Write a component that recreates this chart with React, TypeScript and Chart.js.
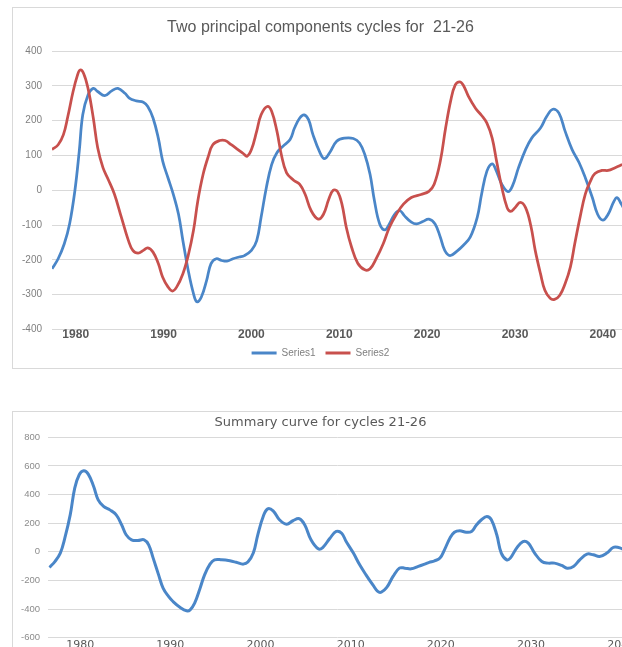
import React, { useEffect, useRef } from "react";
import { Chart, registerables } from "chart.js";

Chart.register(...registerables);

// ---------- Data ----------
const xTickYears = [1980, 1990, 2000, 2010, 2020, 2030, 2040];

const topTitle = "Two principal components cycles for  21-26";
const bottomTitle = "Summary curve for cycles 21-26";
const series1Label = "Series1";
const series2Label = "Series2";

const s1Years = [
  1977.3, 1978.0, 1978.7, 1979.3, 1979.9, 1980.4, 1980.8, 1981.4, 1982.0, 1982.5,
  1983.3, 1984.1, 1984.8, 1985.6, 1986.1, 1986.9, 1987.7, 1988.2, 1988.8, 1989.4,
  1989.9, 1990.5, 1991.1, 1991.7, 1992.2, 1992.8, 1993.4, 1993.8, 1994.3, 1994.9,
  1995.4, 1996.0, 1996.6, 1997.2, 1997.9, 1998.6, 1999.2, 2000.0, 2000.6, 2001.1,
  2001.7, 2002.3, 2002.9, 2003.6, 2004.4, 2004.9, 2005.5, 2006.0, 2006.5, 2007.0,
  2007.8, 2008.3, 2008.9, 2009.7, 2010.6, 2011.6, 2012.3, 2012.9, 2013.5, 2014.0,
  2014.6, 2015.2, 2015.7, 2016.3, 2016.9, 2017.4, 2018.2, 2018.8, 2019.5, 2020.2,
  2020.9, 2021.5, 2022.0, 2022.6, 2023.4, 2024.1, 2024.9, 2025.7, 2026.2, 2026.8,
  2027.4, 2027.8, 2028.5, 2029.2, 2029.7, 2030.4, 2031.2, 2031.9, 2032.9, 2033.6,
  2034.3, 2035.0, 2035.7, 2036.5, 2037.3, 2038.0, 2038.8, 2039.4, 2040.0, 2040.6,
  2041.2, 2041.6, 2042.1, 2042.4,
];
const s1Values = [
  -226, -197, -154, -97, -2, 112, 217, 274, 293, 284,
  272, 286, 293, 279, 265, 257, 253, 241, 208, 150,
  84, 36, -11, -69, -145, -230, -297, -321, -307, -259,
  -211, -197, -202, -204, -197, -192, -188, -173, -145, -78,
  8, 74, 108, 127, 146, 179, 208, 217, 203, 160,
  108, 91, 108, 141, 150, 149, 136, 103, 46, -30,
  -97, -114, -97, -69, -59, -73, -92, -97, -90, -83,
  -97, -135, -173, -188, -175, -159, -135, -78, -11, 55,
  76, 60, 17, -4, 12, 65, 117, 150, 179, 212,
  233, 222, 170, 117, 79, 36, -21, -69, -86, -69,
  -35, -21, -40, -54,
];

const s2Years = [
  1977.3, 1978.0, 1978.6, 1979.1, 1979.7, 1980.2, 1980.5, 1980.9, 1981.4, 1982.0,
  1982.5, 1983.1, 1983.7, 1984.4, 1985.2, 1986.0, 1986.5, 1987.1, 1987.7, 1988.2,
  1988.8, 1989.4, 1989.9, 1990.5, 1991.0, 1991.5, 1992.2, 1992.8, 1993.4, 1993.9,
  1994.5, 1995.1, 1995.6, 1996.4, 1997.0, 1997.7, 1998.3, 1999.1, 1999.5, 2000.0,
  2000.6, 2001.1, 2001.8, 2002.3, 2002.9, 2003.4, 2004.0, 2004.8, 2005.5, 2006.1,
  2006.8, 2007.6, 2008.2, 2008.8, 2009.3, 2009.8, 2010.3, 2010.8, 2011.4, 2012.1,
  2012.9, 2013.5, 2014.2, 2015.0, 2015.7, 2016.5, 2017.3, 2018.2, 2019.3, 2020.2,
  2020.8, 2021.5, 2022.1, 2022.7, 2023.2, 2023.7, 2024.1, 2024.7, 2025.5, 2026.2,
  2026.8, 2027.4, 2027.9, 2028.5, 2029.1, 2029.5, 2030.0, 2030.6, 2031.2, 2031.8,
  2032.3, 2032.9, 2033.4, 2034.0, 2034.5, 2035.1, 2035.7, 2036.3, 2036.8, 2037.4,
  2038.0, 2038.6, 2039.1, 2039.9, 2040.6, 2041.4, 2042.2,
];
const s2Values = [
  117, 131, 160, 212, 284, 331, 346, 336, 293, 208,
  122, 65, 31, -11, -78, -145, -173, -181, -173, -166,
  -178, -211, -250, -278, -290, -278, -240, -188, -116, -30,
  46, 98, 131, 143, 143, 131, 120, 105, 98, 117,
  170, 217, 241, 227, 170, 103, 50, 29, 17, -11,
  -59, -83, -69, -26, 0, -4, -40, -107, -164, -210,
  -229, -226, -197, -154, -107, -69, -40, -21, -12, -3,
  17, 84, 179, 260, 303, 312, 303, 270, 236, 215,
  193, 150, 84, 8, -50, -61, -50, -35, -50, -102,
  -173, -240, -288, -311, -314, -302, -269, -221, -154, -78,
  -11, 27, 48, 57, 57, 65, 74,
];

const sumYears = [
  1976.6, 1977.2, 1977.8, 1978.3, 1978.9, 1979.4, 1979.9, 1980.4, 1980.9, 1981.5,
  1982.0, 1982.6, 1983.3, 1984.0, 1984.6, 1985.1, 1985.7, 1986.4, 1987.1, 1987.6,
  1988.1, 1988.7, 1989.2, 1989.8, 1990.3, 1991.1, 1991.8, 1992.2, 1992.7, 1993.3,
  1993.8, 1994.4, 1994.9, 1995.7, 1996.6, 1997.3, 1998.1, 1998.6, 1999.2, 1999.7,
  2000.3, 2000.8, 2001.4, 2002.1, 2002.9, 2003.6, 2004.3, 2004.9, 2005.6, 2006.4,
  2006.9, 2007.7, 2008.4, 2009.0, 2009.5, 2010.3, 2011.0, 2011.7, 2012.5, 2013.0,
  2013.4, 2014.0, 2014.7, 2015.4, 2016.0, 2016.7, 2017.5, 2018.2, 2018.7, 2019.3,
  2019.9, 2020.4, 2021.0, 2021.5, 2022.1, 2022.8, 2023.4, 2023.9, 2024.5, 2025.1,
  2025.6, 2026.2, 2026.7, 2027.3, 2027.7, 2028.4, 2029.1, 2029.7, 2030.4, 2031.2,
  2031.9, 2032.6, 2033.4, 2034.0, 2034.7, 2035.4, 2036.2, 2036.9, 2037.6, 2038.4,
  2039.1, 2039.7, 2040.2,
];
const sumValues = [
  -109, -68, -9, 95, 258, 445, 538, 566, 543, 456,
  363, 317, 293, 258, 189, 119, 84, 79, 84, 49,
  -44, -161, -254, -312, -347, -389, -412, -405, -359, -254,
  -161, -86, -56, -56, -63, -73, -86, -72, -9, 119,
  247, 300, 286, 224, 193, 217, 231, 189, 84, 21,
  30, 95, 142, 130, 72, -9, -91, -161, -235, -277,
  -282, -249, -172, -114, -114, -119, -102, -86, -74, -63,
  -44, 14, 95, 137, 147, 137, 142, 184, 224, 247,
  224, 119, -9, -56, -44, 26, 72, 61, -9, -68,
  -79, -79, -95, -114, -102, -56, -16, -21, -33, -9,
  30, 30, 18,
];

// ---------- Styles ----------
const BLUE = "#4a86c8";
const RED = "#c8504d";
const GRID = "#d9d9d9";
const SANS = "'Liberation Sans', Arial, sans-serif";
const DEJAVU = "'DejaVu Sans', sans-serif";

const pts = (xs: number[], ys: number[]) => xs.map((x, i) => ({ x, y: ys[i] }));

export default function App() {
  const topRef = useRef<HTMLCanvasElement>(null);
  const botRef = useRef<HTMLCanvasElement>(null);

  useEffect(() => {
    const topChart = new Chart(topRef.current as HTMLCanvasElement, {
      type: "line",
      data: {
        datasets: [
          {
            label: series1Label,
            data: pts(s1Years, s1Values),
            borderColor: BLUE,
            backgroundColor: BLUE,
            borderWidth: 2.75,
            pointRadius: 0,
            tension: 0.4,
            order: 1,
          },
          {
            label: series2Label,
            data: pts(s2Years, s2Values),
            borderColor: RED,
            backgroundColor: RED,
            borderWidth: 2.75,
            pointRadius: 0,
            tension: 0.4,
            order: 0,
          },
        ],
      },
      options: {
        responsive: false,
        animation: false,
        devicePixelRatio: 1,
        layout: { padding: { left: 0, right: 8, top: 0, bottom: 0 } },
        plugins: {
          title: {
            display: true,
            text: topTitle,
            color: "#595959",
            font: { family: SANS, size: 16, weight: "normal" },
            padding: { top: 10, bottom: 14 },
          },
          legend: {
            position: "bottom",
            labels: {
              boxWidth: 25,
              boxHeight: 3,
              padding: 10,
              color: "#7f7f7f",
              font: { family: SANS, size: 10 },
              generateLabels: (chart: any) =>
                [series1Label, series2Label].map((t, i) => ({
                  text: t,
                  fillStyle: i === 0 ? BLUE : RED,
                  strokeStyle: i === 0 ? BLUE : RED,
                  lineWidth: 0,
                  hidden: false,
                  datasetIndex: i,
                  fontColor: "#7f7f7f",
                })),
            },
          },
          tooltip: { enabled: false },
        },
        scales: {
          x: {
            type: "linear",
            min: 1977.3,
            max: 2042.86,
            afterBuildTicks: (s: any) => {
              s.ticks = xTickYears.map((v) => ({ value: v }));
            },
            afterFit: (s: any) => {
              s.height = 8.7;
            },
            grid: { display: false, drawTicks: false },
            border: { display: false },
            ticks: {
              padding: -2,
              color: "#595959",
              font: { family: SANS, size: 12, weight: "bold" },
              maxRotation: 0,
              autoSkip: false,
              callback: (v: any) => String(v),
            },
          },
          y: {
            min: -400,
            max: 400,
            afterFit: (s: any) => {
              s.width = 39;
            },
            grid: { color: GRID, drawTicks: false },
            border: { display: false },
            ticks: {
              stepSize: 100,
              padding: 10,
              color: "#7f7f7f",
              font: { family: SANS, size: 10 },
            },
          },
        },
      } as any,
    });

    const botChart = new Chart(botRef.current as HTMLCanvasElement, {
      type: "line",
      data: {
        datasets: [
          {
            label: series1Label,
            data: pts(sumYears, sumValues),
            borderColor: BLUE,
            backgroundColor: BLUE,
            borderWidth: 3,
            pointRadius: 0,
            tension: 0.4,
          },
        ],
      },
      options: {
        responsive: false,
        animation: false,
        devicePixelRatio: 1,
        layout: { padding: { left: 0, right: 8, top: 0, bottom: 0 } },
        plugins: {
          title: {
            display: true,
            text: bottomTitle,
            color: "#595959",
            font: { family: DEJAVU, size: 13, weight: "normal" },
            padding: { top: 3.2, bottom: 6.5 },
          },
          legend: { display: false },
          tooltip: { enabled: false },
        },
        scales: {
          x: {
            type: "linear",
            min: 1976.47,
            max: 2040.66,
            afterBuildTicks: (s: any) => {
              s.ticks = xTickYears.map((v) => ({ value: v }));
            },
            afterFit: (s: any) => {
              s.height = 34.3;
            },
            grid: { display: false, drawTicks: false },
            border: { display: false },
            ticks: {
              padding: 0.7,
              color: "#595959",
              font: { family: DEJAVU, size: 11 },
              maxRotation: 0,
              autoSkip: false,
              callback: (v: any) => String(v),
            },
          },
          y: {
            min: -600,
            max: 800,
            afterFit: (s: any) => {
              s.width = 35.3;
            },
            grid: { color: GRID, drawTicks: false },
            border: { display: false },
            ticks: {
              stepSize: 200,
              padding: 8.3,
              color: "#8c8c8c",
              font: { family: SANS, size: 9.5 },
            },
          },
        },
      } as any,
    });

    return () => {
      topChart.destroy();
      botChart.destroy();
    };
  }, []);

  return (
    <div
      style={{
        position: "fixed",
        left: 0,
        top: 0,
        width: 622,
        height: 647,
        overflow: "hidden",
        background: "#ffffff",
      }}
    >
      <div
        style={{
          position: "absolute",
          left: 12,
          top: 7,
          width: 625,
          height: 362,
          border: "1px solid #d9d9d9",
          boxSizing: "border-box",
        }}
      >
        <canvas ref={topRef} width={623} height={360} style={{ display: "block" }} />
      </div>
      <div
        style={{
          position: "absolute",
          left: 12,
          top: 411,
          width: 625,
          height: 262,
          border: "1px solid #d9d9d9",
          boxSizing: "border-box",
        }}
      >
        <canvas ref={botRef} width={623} height={260} style={{ display: "block" }} />
      </div>
    </div>
  );
}
